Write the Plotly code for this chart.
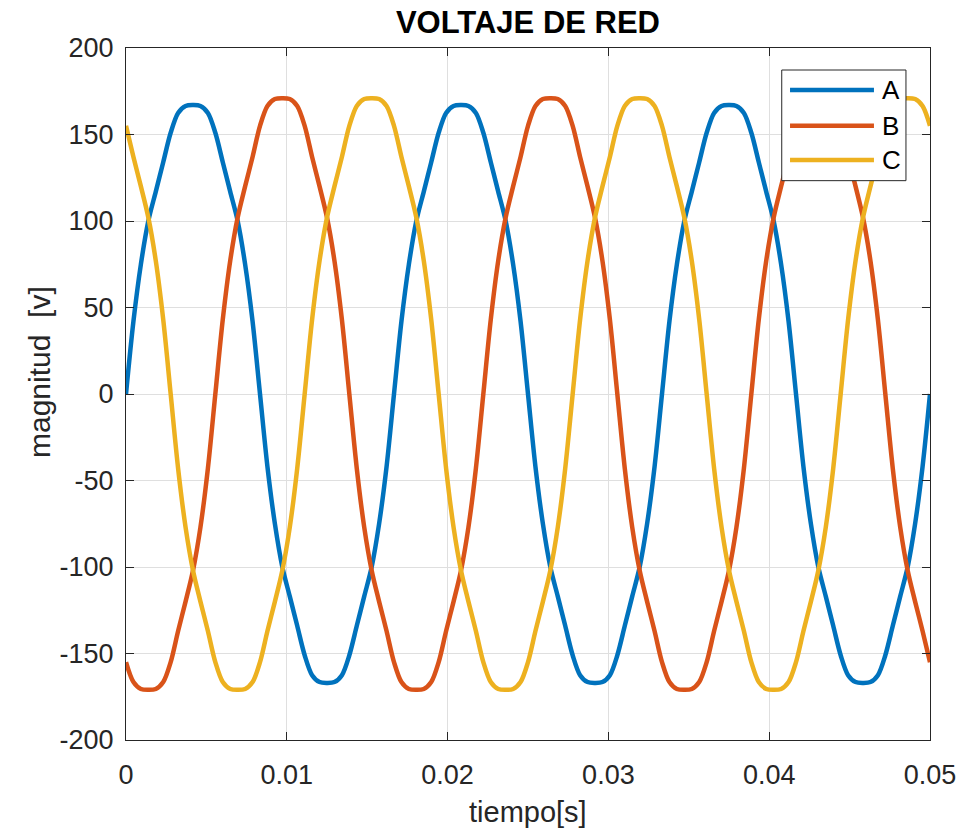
import numpy as np
import plotly.graph_objects as go

# Three-phase grid voltage, 60 Hz, sampled every 10 electrical degrees (0 .. 0.05 s)
tiempo = np.linspace(0.0, 0.05, 109)

fase_a = [
    0, 42, 75, 100, 117, 134, 151, 162.5, 166.5, 167, 166.5, 162.5, 151, 134, 117, 100, 75, 42,
    0, -42, -75, -100, -117, -134, -151, -162.5, -166.5, -167, -166.5, -162.5, -151, -134, -117, -100, -75, -42,
    0, 42, 75, 100, 117, 134, 151, 162.5, 166.5, 167, 166.5, 162.5, 151, 134, 117, 100, 75, 42,
    0, -42, -75, -100, -117, -134, -151, -162.5, -166.5, -167, -166.5, -162.5, -151, -134, -117, -100, -75, -42,
    0, 42, 75, 100, 117, 134, 151, 162.5, 166.5, 167, 166.5, 162.5, 151, 134, 117, 100, 75, 42,
    0, -42, -75, -100, -117, -134, -151, -162.5, -166.5, -167, -166.5, -162.5, -151, -134, -117, -100, -75, -42,
    0,
]

fase_b = [
    -155, -166.5, -170.5, -171, -170.5, -166.5, -155, -137, -120, -102, -77, -43,
    0, 43, 77, 102, 120, 137, 155, 166.5, 170.5, 171, 170.5, 166.5, 155, 137, 120, 102, 77, 43,
    0, -43, -77, -102, -120, -137,
    -155, -166.5, -170.5, -171, -170.5, -166.5, -155, -137, -120, -102, -77, -43,
    0, 43, 77, 102, 120, 137, 155, 166.5, 170.5, 171, 170.5, 166.5, 155, 137, 120, 102, 77, 43,
    0, -43, -77, -102, -120, -137,
    -155, -166.5, -170.5, -171, -170.5, -166.5, -155, -137, -120, -102, -77, -43,
    0, 43, 77, 102, 120, 137, 155, 166.5, 170.5, 171, 170.5, 166.5, 155, 137, 120, 102, 77, 43,
    0, -43, -77, -102, -120, -137,
    -155,
]

fase_c = [
    155, 137, 120, 102, 77, 43,
    0, -43, -77, -102, -120, -137, -155, -166.5, -170.5, -171, -170.5, -166.5, -155, -137, -120, -102, -77, -43,
    0, 43, 77, 102, 120, 137, 155, 166.5, 170.5, 171, 170.5, 166.5,
    155, 137, 120, 102, 77, 43,
    0, -43, -77, -102, -120, -137, -155, -166.5, -170.5, -171, -170.5, -166.5, -155, -137, -120, -102, -77, -43,
    0, 43, 77, 102, 120, 137, 155, 166.5, 170.5, 171, 170.5, 166.5,
    155, 137, 120, 102, 77, 43,
    0, -43, -77, -102, -120, -137, -155, -166.5, -170.5, -171, -170.5, -166.5, -155, -137, -120, -102, -77, -43,
    0, 43, 77, 102, 120, 137, 155, 166.5, 170.5, 171, 170.5, 166.5,
    155,
]

nombres = ["A", "B", "C"]
colores = ["#0072BD", "#D95319", "#EDB120"]

x_ticks = [0, 0.01, 0.02, 0.03, 0.04, 0.05]
x_tick_labels = ["0", "0.01", "0.02", "0.03", "0.04", "0.05"]
y_ticks = [-200, -150, -100, -50, 0, 50, 100, 150, 200]
y_tick_labels = ["-200", "-150", "-100", "-50", "0", "50", "100", "150", "200"]

FONT = "Liberation Sans, Arial, Helvetica, sans-serif"
AXIS_COLOR = "#262626"
GRID_COLOR = "#dfdfdf"
LW = 4.5

fig = go.Figure()
for nombre, serie, color in zip(nombres, [fase_a, fase_b, fase_c], colores):
    fig.add_trace(go.Scatter(
        x=tiempo, y=serie, mode="lines", name=nombre,
        line=dict(color=color, width=LW, shape="spline", smoothing=0.9),
        showlegend=False,
    ))

axis_common = dict(
    showline=True, linecolor=AXIS_COLOR, linewidth=1, mirror="ticks",
    ticks="inside", ticklen=8, tickcolor=AXIS_COLOR, tickwidth=1,
    showgrid=True, gridcolor=GRID_COLOR, gridwidth=1, zeroline=False,
    tickfont=dict(family=FONT, size=27, color=AXIS_COLOR),
)

fig.update_xaxes(range=[0, 0.05], tickmode="array", tickvals=x_ticks, ticktext=x_tick_labels,
                 ticklabelstandoff=11, **axis_common)
fig.update_yaxes(range=[-200, 200], tickmode="array", tickvals=y_ticks, ticktext=y_tick_labels,
                 ticklabelstandoff=6, **axis_common)

# Axis labels
annotations = [
    dict(text="tiempo[s]", xref="paper", yref="paper", x=0.5, y=0, yshift=-72,
         xanchor="center", yanchor="middle", showarrow=False,
         font=dict(family=FONT, size=29, color=AXIS_COLOR)),
    dict(text="magnitud&nbsp;&nbsp;[v]", xref="paper", yref="paper", x=0, y=0.5318, xshift=-86,
         xanchor="center", yanchor="middle", textangle=-90, showarrow=False,
         font=dict(family=FONT, size=30, color=AXIS_COLOR)),
]

# Legend box drawn on top of the curves
shapes = [dict(type="rect", xref="paper", yref="paper", x0=0.8156, x1=0.9701, y0=0.8083, y1=0.9682,
               fillcolor="white", line=dict(color=AXIS_COLOR, width=1), layer="above")]
fila_y = [0.9393, 0.8877, 0.8382]
for nombre, color, yy in zip(nombres, colores, fila_y):
    shapes.append(dict(type="line", xref="paper", yref="paper", x0=0.8259, x1=0.9303, y0=yy, y1=yy,
                       line=dict(color=color, width=LW), layer="above"))
    annotations.append(dict(text=nombre, xref="paper", yref="paper", x=0.9378, y=yy,
                            xanchor="left", yanchor="middle", showarrow=False,
                            font=dict(family=FONT, size=26, color="#000000")))

fig.update_layout(
    width=961, height=829,
    margin=dict(l=126, r=31, t=48, b=89, autoexpand=False),
    paper_bgcolor="white", plot_bgcolor="white",
    title=dict(text="<b>VOLTAJE DE RED</b>", x=0.5494, xanchor="center",
               y=1 - 22.5 / 829, yanchor="middle", yref="container",
               font=dict(family=FONT, size=31, color="#000000")),
    shapes=shapes, annotations=annotations,
)

fig.write_html("out.html")
